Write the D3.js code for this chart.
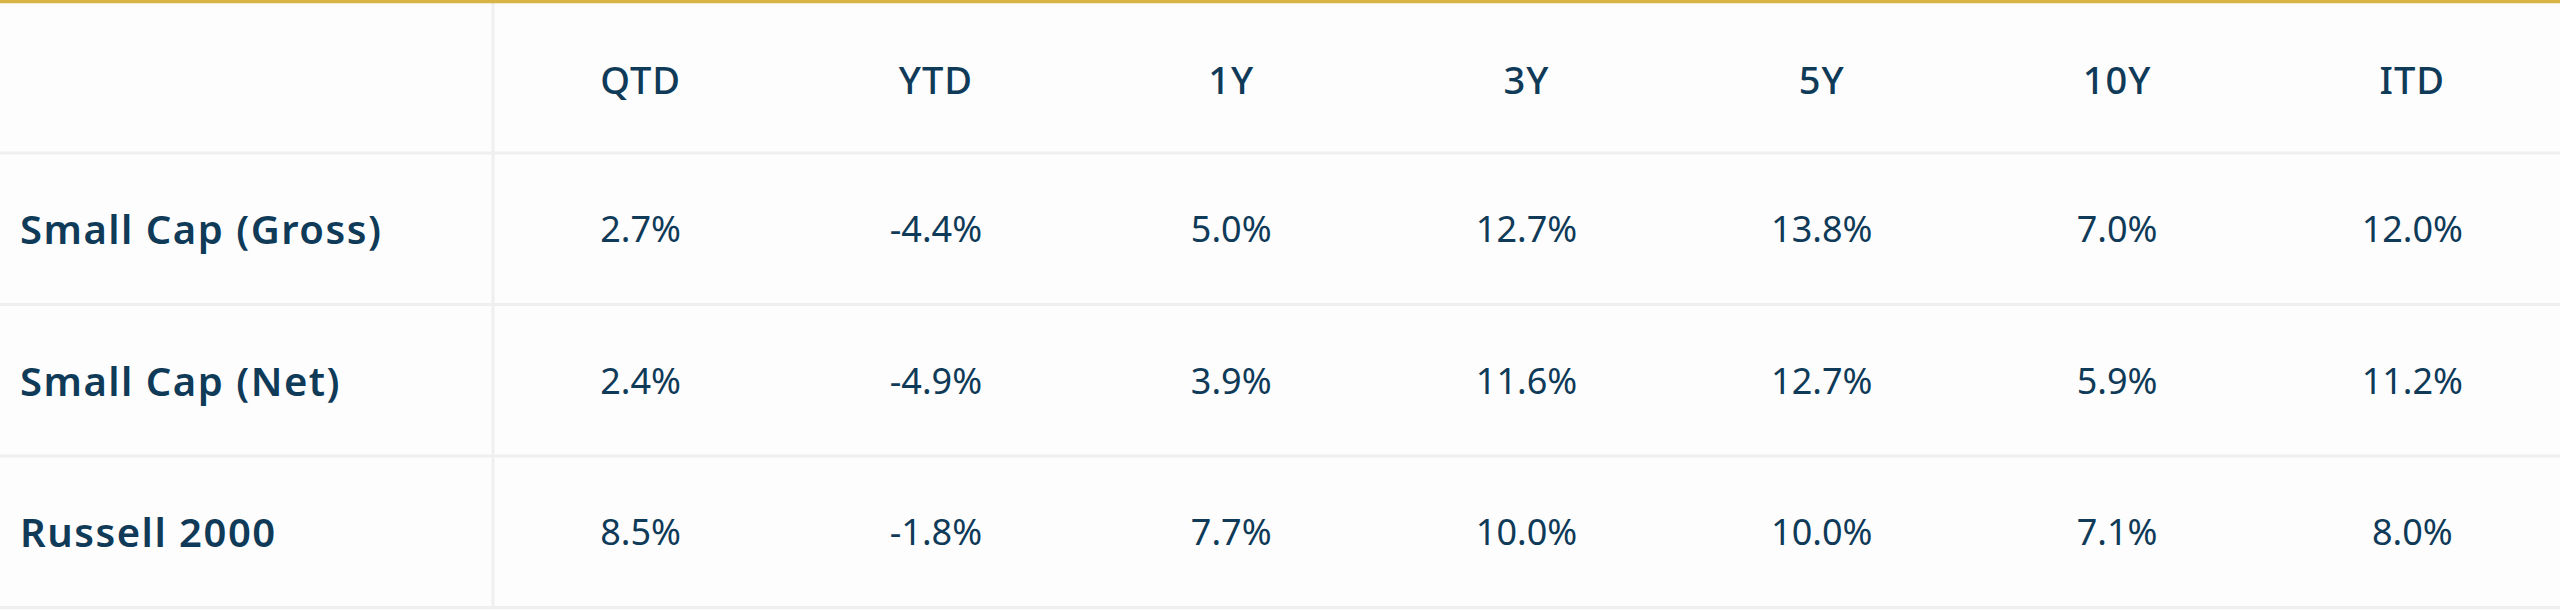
<!DOCTYPE html>
<html>
<head>
<meta charset="utf-8">
<script src="https://cdn.jsdelivr.net/npm/d3@7"></script>
<style>
  body { margin: 0; background: #fdfdfd; }
  text { font-family: "Noto Sans", sans-serif; fill: #0f3a58; }
</style>
</head>
<body>
<div id="chart"></div>
<script>
var periods = ["QTD", "YTD", "1Y", "3Y", "5Y", "10Y", "ITD"];
var rowNames = ["Small Cap (Gross)", "Small Cap (Net)", "Russell 2000"];
var gross = [2.7, -4.4, 5.0, 12.7, 13.8, 7.0, 12.0];
var net = [2.4, -4.9, 3.9, 11.6, 12.7, 5.9, 11.2];
var russell = [8.5, -1.8, 7.7, 10.0, 10.0, 7.1, 8.0];
var rows = [gross, net, russell];

var width = 2560, height = 611,
    labelW = 493, headerH = 153, rowH = 151.5;

var svg = d3.select("#chart").append("svg")
    .attr("width", width)
    .attr("height", height);

var x = d3.scaleBand()
    .domain(periods)
    .range([labelW, width]);

var y = d3.scaleBand()
    .domain(rowNames)
    .range([headerH, headerH + rowH * rowNames.length]);

// grid lines
svg.selectAll(".hline")
  .data(rowNames)
  .enter().append("line")
    .attr("x1", 0).attr("x2", width)
    .attr("y1", function(d) { return y(d) + y.bandwidth(); })
    .attr("y2", function(d) { return y(d) + y.bandwidth(); })
    .attr("stroke", "#efefef").attr("stroke-width", 3);

svg.append("line")
    .attr("x1", 0).attr("x2", width)
    .attr("y1", headerH).attr("y2", headerH)
    .attr("stroke", "#efefef").attr("stroke-width", 3);

svg.append("line")
    .attr("x1", labelW).attr("x2", labelW)
    .attr("y1", 3).attr("y2", headerH + rowH * rowNames.length)
    .attr("stroke", "#efefef").attr("stroke-width", 3);

svg.append("line")
    .attr("x1", 0).attr("x2", width)
    .attr("y1", 1.5).attr("y2", 1.5)
    .attr("stroke", "#d8b445").attr("stroke-width", 3.5);

// header
svg.selectAll(".head")
  .data(periods)
  .enter().append("text")
    .attr("x", function(d) { return x(d) + x.bandwidth() / 2; })
    .attr("y", headerH / 2 + 2)
    .attr("text-anchor", "middle")
    .attr("dominant-baseline", "central")
    .attr("font-size", 38)
    .attr("font-weight", 500)
    .attr("letter-spacing", 1)
    .text(function(d) { return d; });

// row labels
svg.selectAll(".label")
  .data(rowNames)
  .enter().append("text")
    .attr("x", 20)
    .attr("y", function(d) { return y(d) + y.bandwidth() / 2; })
    .attr("dominant-baseline", "central")
    .attr("font-size", 40)
    .attr("font-weight", 600)
    .attr("letter-spacing", 1.5)
    .text(function(d) { return d; });

// values
rows.forEach(function(vals, i) {
  svg.selectAll(".v" + i)
    .data(vals)
    .enter().append("text")
      .attr("x", function(d, j) { return x(periods[j]) + x.bandwidth() / 2; })
      .attr("y", y(rowNames[i]) + y.bandwidth() / 2)
      .attr("text-anchor", "middle")
      .attr("dominant-baseline", "central")
      .attr("font-size", 36)
      .attr("font-weight", 400)
      .text(function(d) { return d.toFixed(1) + "%"; });
});
</script>
</body>
</html>
